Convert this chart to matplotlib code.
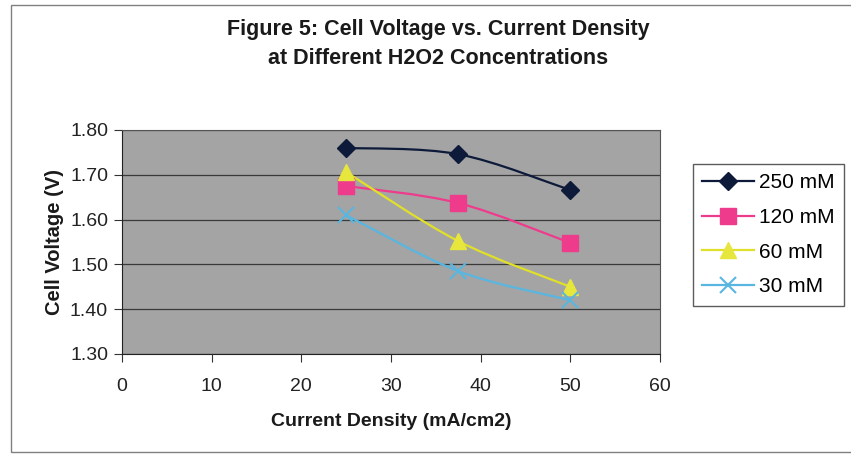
import numpy as np
import matplotlib.pyplot as plt
from matplotlib.path import Path
import matplotlib.patches as mpatches
from matplotlib.lines import Line2D

# current density (mA/cm2)
current = [25, 37.5, 50]
# cell voltage (V) for each H2O2 concentration
v_250 = [1.760, 1.746, 1.666]
v_120 = [1.675, 1.637, 1.548]
v_60 = [1.706, 1.552, 1.450]
v_30 = [1.610, 1.485, 1.420]
labels = ["250 mM", "120 mM", "60 mM", "30 mM"]


def smooth_path(x, y):
    # Excel-like smoothed line: cubic bezier segments (Catmull-Rom tangents)
    x = np.asarray(x, float)
    y = np.asarray(y, float)
    verts = [(x[0], y[0])]
    codes = [Path.MOVETO]
    n = len(x)
    for i in range(n - 1):
        x0, y0 = (x[i - 1], y[i - 1]) if i > 0 else (x[i], y[i])
        x3, y3 = (x[i + 2], y[i + 2]) if i + 2 < n else (x[i + 1], y[i + 1])
        c1 = (x[i] + (x[i + 1] - x0) / 6, y[i] + (y[i + 1] - y0) / 6)
        c2 = (x[i + 1] - (x3 - x[i]) / 6, y[i + 1] - (y3 - y[i]) / 6)
        verts += [c1, c2, (x[i + 1], y[i + 1])]
        codes += [Path.CURVE4] * 3
    return Path(verts, codes)


fig = plt.figure(figsize=(8.51, 4.54), dpi=100)
plt.rcParams['font.family'] = ['Liberation Sans', 'DejaVu Sans']

# outer chart border
fig.patches.append(mpatches.Rectangle((11 / 851, 2 / 454), 1.0, 447 / 454, transform=fig.transFigure,
                                      fill=False, edgecolor='#808080', lw=1.0))

ax = fig.add_axes([122 / 851, 1 - 354 / 454, 538 / 851, 224 / 454])
ax.set_facecolor('#a4a4a4')

series = [
    (v_250, '#0d1a3a', 'D', 9, '#0d1a3a'),
    (v_120, '#ee3b8c', 's', 11, '#ee3b8c'),
    (v_60, '#e0e02a', '^', 12, '#e6e63c'),
    (v_30, '#59b6e0', 'x', 12, '#59b6e0'),
]
handles = []
for (vals, color, mk, ms, mfc), lab in zip(series, labels):
    ax.add_patch(mpatches.PathPatch(smooth_path(current, vals), fill=False, edgecolor=color, lw=1.6, zorder=3))
    ax.plot(current, vals, linestyle='none', marker=mk, ms=ms, color=mfc, mec=mfc,
            mew=1.5 if mk == 'x' else 1, zorder=4)
    handles.append(Line2D([0], [0], color=color, lw=1.6, marker=mk, ms=ms, mfc=mfc, mec=mfc,
                          mew=1.5 if mk == 'x' else 1))

ax.set_xlim(0, 60)
ax.set_ylim(1.30, 1.80)
ax.set_xticks(np.arange(0, 61, 10))
ax.set_yticks(np.arange(1.30, 1.81, 0.10))
ax.set_yticklabels(["%.2f" % v for v in np.arange(1.30, 1.81, 0.10)])
ax.yaxis.grid(True, color='#3a3a3a', lw=0.9)
ax.set_axisbelow(True)
for s in ax.spines.values():
    s.set_color('#555555')
ax.spines['left'].set_color('#222222')
ax.spines['bottom'].set_color('#222222')
ax.tick_params(axis='both', direction='out', length=6, color='#333333', labelsize=14, labelcolor='#222222')
ax.tick_params(axis='x', pad=11)
ax.tick_params(axis='y', pad=4)

ax.set_xlabel("Current Density (mA/cm2)", fontsize=14, fontweight='bold', labelpad=13, color='#1a1a1a')
ax.set_ylabel("Cell Voltage (V)", fontsize=14.5, fontweight='bold', labelpad=4, color='#1a1a1a')
fig.text(0.515, 1 - 44 / 454, "Figure 5: Cell Voltage vs. Current Density\nat Different H2O2 Concentrations",
         ha='center', va='center', fontsize=15.5, fontweight='bold', color='#1a1a1a', linespacing=1.5)

leg = fig.legend(handles=handles, labels=labels, loc='upper left',
                 bbox_to_anchor=(693 / 851, 1 - 164 / 454), frameon=True, fancybox=False,
                 fontsize=15, handlelength=2.5, borderpad=0.45, labelspacing=0.75,
                 handletextpad=0.2, borderaxespad=0)
leg.get_frame().set_edgecolor('#333333')
leg.get_frame().set_linewidth(1.0)

fig.savefig("out.png", dpi=100)
